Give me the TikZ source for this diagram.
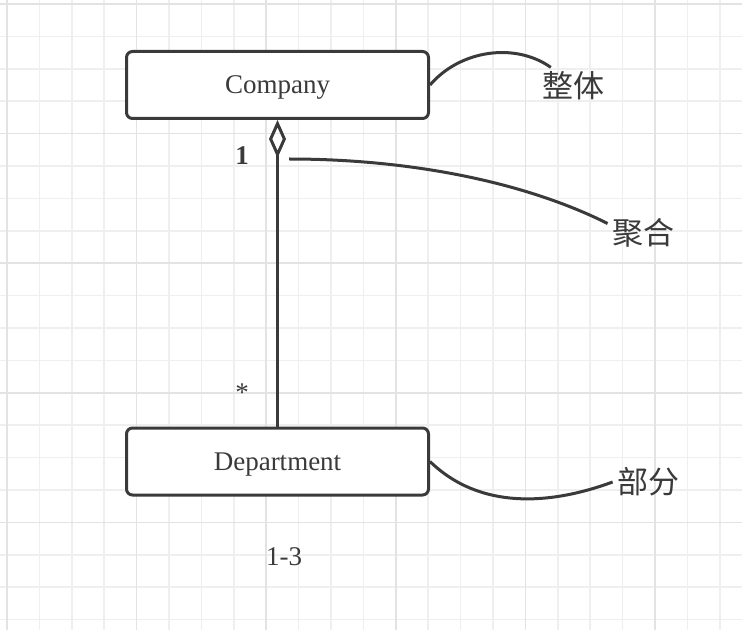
\documentclass[tikz,border=0pt]{standalone}
\usepackage{fontspec}
\setmainfont{Liberation Serif}
\newfontfamily\cjk{Noto Sans CJK SC}
\usetikzlibrary{arrows.meta}

\definecolor{inkgray}{HTML}{3A3A3A}
\definecolor{gridminor}{HTML}{EFEFEF}
\definecolor{gridmajor}{HTML}{E3E3E3}

\tikzset{
    classbox/.style={draw=inkgray, line width=1.5pt, rounded corners=3pt, fill=white,
        minimum width=151pt, minimum height=33.5pt, text=inkgray,
        text height=8.8pt, text depth=0pt,
        font=\fontsize{13.5}{16}\selectfont},
    note/.style={text=inkgray, inner sep=2pt, font=\cjk\fontsize{15.5}{18}\selectfont},
    mult/.style={text=inkgray, inner sep=0pt, anchor=base, font=\fontsize{13.5}{16}\selectfont},
    link/.style={draw=inkgray, line width=1.5pt},
    minorline/.style={draw=gridminor, line width=0.8pt},
    majorline/.style={draw=gridmajor, line width=0.8pt}
}

\begin{document}
\begin{tikzpicture}[x=0.5pt, y=-0.5pt]
    \useasboundingbox (0,0) rectangle (742,630);
    \fill[white] (0,0) rectangle (742,630);

    % grid
    \foreach \i in {0,...,22}
        \draw[minorline] ({7+32.4*\i},0) -- ({7+32.4*\i},630);
    \foreach \j in {0,...,19}
        \draw[minorline] (0,{4+32.4*\j}) -- (742,{4+32.4*\j});
    \foreach \i in {0,4,...,20}
        \draw[majorline] ({7+32.4*\i},0) -- ({7+32.4*\i},630);
    \foreach \j in {0,4,...,16}
        \draw[majorline] (0,{4+32.4*\j}) -- (742,{4+32.4*\j});

    % Company
    \node[classbox] (company) at (277.5,85) {Company};

    % Department
    \node[classbox] (dept) at (277.5,461.5) {Department};

    % Notes
    \node[note] (wholelbl) at (573,86) {整体};
    \node[note] (agglbl) at (643,233) {聚合};
    \node[note] (partlbl) at (648,482) {部分};

    % Multiplicities
    \node[mult] (onelbl) at (242,165) {\textbf{1}};
    \node[mult] (manylbl) at (242,401) {*};
    \node[mult] (caption) at (284,565) {1-3};

    % Aggregation
    \draw[link, {Diamond[open, length=19pt, width=8.5pt]}-] (company.south) -- (dept.north);
    \coordinate (aggpt) at (289,159);

    % Note links
    \draw[link] (company.east) .. controls (460,50) and (515,42) .. (wholelbl.140);
    \draw[link] (aggpt) .. controls (410,159) and (525,182) .. (agglbl.165);
    \draw[link] (dept.east) .. controls (480,510) and (550,505) .. (partlbl.west);
\end{tikzpicture}
\end{document}
